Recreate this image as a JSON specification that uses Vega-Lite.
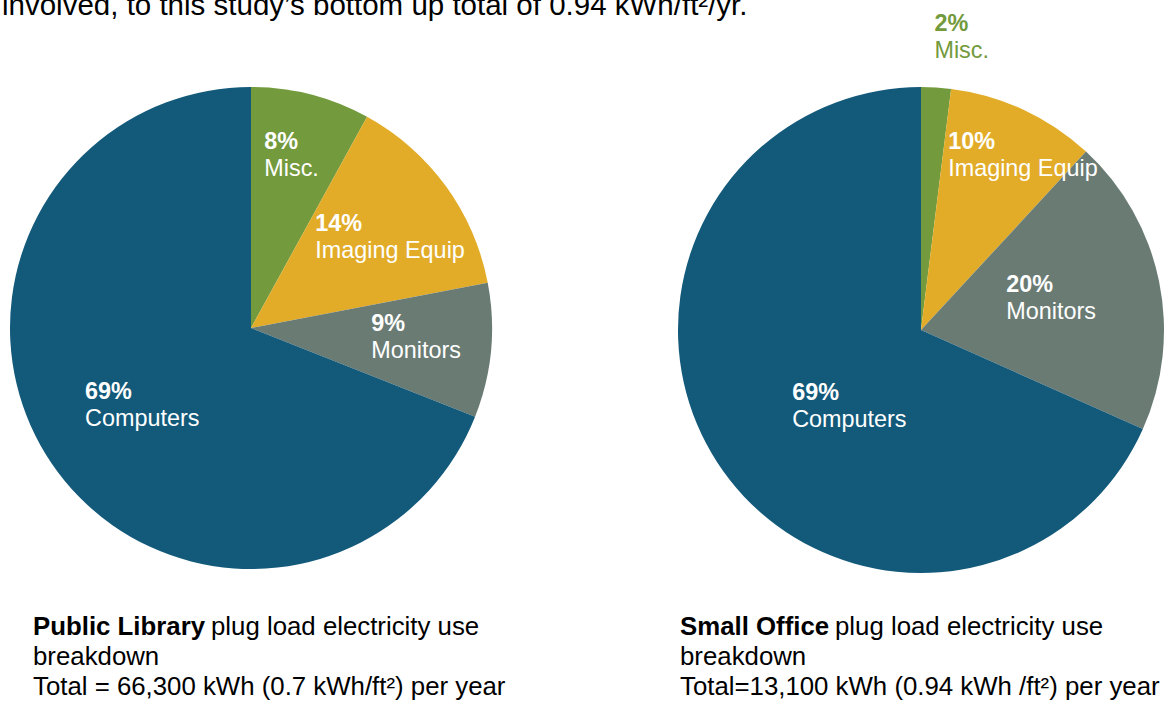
{
  "$schema": "https://vega.github.io/schema/vega-lite/v6.json",
  "background": "white",
  "padding": {"left": 2, "top": -9, "right": 0, "bottom": 0},
  "config": {"view": {"stroke": null}, "font": "Liberation Sans"},
  "datasets": {
    "library": [
      {"category": "Misc.", "value": 8, "pct": "8%", "order": 1},
      {"category": "Imaging Equip", "value": 14, "pct": "14%", "order": 2},
      {"category": "Monitors", "value": 9, "pct": "9%", "order": 3},
      {"category": "Computers", "value": 69, "pct": "69%", "order": 4}
    ],
    "office": [
      {"category": "Misc.", "value": 2, "pct": "2%", "order": 1},
      {"category": "Imaging Equip", "value": 10, "pct": "10%", "order": 2},
      {"category": "Monitors", "value": 20, "pct": "20%", "order": 3},
      {"category": "Computers", "value": 69, "pct": "69%", "order": 4}
    ]
  },
  "title": {
    "text": "involved, to this study’s bottom up total of 0.94 kWh/ft²/yr.",
    "orient": "top", "anchor": "start", "frame": "group",
    "offset": -10, "dx": -8,
    "font": "Liberation Sans", "fontSize": 29.5, "fontWeight": "normal", "color": "#000000"
  },
  "spacing": 161,
  "hconcat": [
    {
      "title": {
        "text": "plug load electricity use",
        "orient": "bottom", "anchor": "start", "frame": "group",
        "offset": -85, "dx": 201,
        "font": "Liberation Sans", "fontSize": 25.8, "fontWeight": "normal", "color": "#000000"
      },
      "vconcat": [
        {
          "width": 482, "height": 482,
          "data": {"name": "library"},
          "title": {
            "text": "Public Library",
            "subtitle": ["breakdown", "Total = 66,300 kWh (0.7 kWh/ft²) per year"],
            "orient": "bottom", "anchor": "start", "frame": "group",
            "offset": 46, "dx": 23,
            "font": "Liberation Sans", "fontSize": 25.8, "fontWeight": "bold", "color": "#000000",
            "subtitleFont": "Liberation Sans", "subtitleFontSize": 25.8, "subtitleColor": "#000000",
            "subtitleLineHeight": 30, "subtitlePadding": 4
          },
          "encoding": {
            "theta": {"field": "value", "type": "quantitative", "stack": true},
            "order": {"field": "order", "type": "quantitative"}
          },
          "layer": [
            {
              "mark": {"type": "arc", "stroke": null},
              "encoding": {
                "color": {
                  "field": "category", "type": "nominal", "legend": null,
                  "scale": {"domain": ["Misc.", "Imaging Equip", "Monitors", "Computers"], "range": ["#739A3C", "#E2AC28", "#6A7B74", "#12597A"]}
                }
              }
            },
            {"mark": {"type": "text", "radius": 178, "align": "left", "baseline": "middle", "dx": -31, "dy": -14, "fontSize": 23.4, "fontWeight": "bold", "color": "#ffffff"},
             "encoding": {"text": {"condition": {"test": "datum.category === 'Misc.'", "field": "pct"}, "value": ""}}},
            {"mark": {"type": "text", "radius": 178, "align": "left", "baseline": "middle", "dx": -31, "dy": 13, "fontSize": 23.4, "color": "#ffffff"},
             "encoding": {"text": {"condition": {"test": "datum.category === 'Misc.'", "field": "category"}, "value": ""}}},
            {"mark": {"type": "text", "radius": 166, "align": "left", "baseline": "middle", "dx": -70, "dy": -6, "fontSize": 23.4, "fontWeight": "bold", "color": "#ffffff"},
             "encoding": {"text": {"condition": {"test": "datum.category === 'Imaging Equip'", "field": "pct"}, "value": ""}}},
            {"mark": {"type": "text", "radius": 166, "align": "left", "baseline": "middle", "dx": -70, "dy": 21, "fontSize": 23.4, "color": "#ffffff"},
             "encoding": {"text": {"condition": {"test": "datum.category === 'Imaging Equip'", "field": "category"}, "value": ""}}},
            {"mark": {"type": "text", "radius": 166, "align": "left", "baseline": "middle", "dx": -45, "dy": -20, "fontSize": 23.4, "fontWeight": "bold", "color": "#ffffff"},
             "encoding": {"text": {"condition": {"test": "datum.category === 'Monitors'", "field": "pct"}, "value": ""}}},
            {"mark": {"type": "text", "radius": 166, "align": "left", "baseline": "middle", "dx": -45, "dy": 7, "fontSize": 23.4, "color": "#ffffff"},
             "encoding": {"text": {"condition": {"test": "datum.category === 'Monitors'", "field": "category"}, "value": ""}}},
            {"mark": {"type": "text", "radius": 133, "align": "left", "baseline": "middle", "dx": -56, "dy": -11, "fontSize": 23.4, "fontWeight": "bold", "color": "#ffffff"},
             "encoding": {"text": {"condition": {"test": "datum.category === 'Computers'", "field": "pct"}, "value": ""}}},
            {"mark": {"type": "text", "radius": 133, "align": "left", "baseline": "middle", "dx": -56, "dy": 16, "fontSize": 23.4, "color": "#ffffff"},
             "encoding": {"text": {"condition": {"test": "datum.category === 'Computers'", "field": "category"}, "value": ""}}}
          ]
        }
      ]
    },
    {
      "title": {
        "text": "plug load electricity use",
        "orient": "bottom", "anchor": "start", "frame": "group",
        "offset": -85, "dx": 157,
        "font": "Liberation Sans", "fontSize": 25.8, "fontWeight": "normal", "color": "#000000"
      },
      "vconcat": [
        {
          "width": 486, "height": 486,
          "data": {"name": "office"},
          "title": {
            "text": "Small Office",
            "subtitle": ["breakdown", "Total=13,100 kWh (0.94 kWh /ft²) per year"],
            "orient": "bottom", "anchor": "start", "frame": "group",
            "offset": 42, "dx": 2,
            "font": "Liberation Sans", "fontSize": 25.8, "fontWeight": "bold", "color": "#000000",
            "subtitleFont": "Liberation Sans", "subtitleFontSize": 25.8, "subtitleColor": "#000000",
            "subtitleLineHeight": 30, "subtitlePadding": 4
          },
          "encoding": {
            "theta": {"field": "value", "type": "quantitative", "stack": true},
            "order": {"field": "order", "type": "quantitative"}
          },
          "layer": [
            {
              "mark": {"type": "arc", "stroke": null},
              "encoding": {
                "color": {
                  "field": "category", "type": "nominal", "legend": null,
                  "scale": {"domain": ["Misc.", "Imaging Equip", "Monitors", "Computers"], "range": ["#739A3C", "#E2AC28", "#6A7B74", "#12597A"]}
                }
              }
            },
            {"mark": {"type": "text", "radius": 296, "align": "left", "baseline": "middle", "dx": -5, "dy": -11, "fontSize": 23.4, "fontWeight": "bold", "color": "#739A3C"},
             "encoding": {"text": {"condition": {"test": "datum.category === 'Misc.'", "field": "pct"}, "value": ""}}},
            {"mark": {"type": "text", "radius": 296, "align": "left", "baseline": "middle", "dx": -5, "dy": 16, "fontSize": 23.4, "color": "#739A3C"},
             "encoding": {"text": {"condition": {"test": "datum.category === 'Misc.'", "field": "category"}, "value": ""}}},
            {"mark": {"type": "text", "radius": 190, "align": "left", "baseline": "middle", "dx": -53, "dy": -15.5, "fontSize": 23.4, "fontWeight": "bold", "color": "#ffffff"},
             "encoding": {"text": {"condition": {"test": "datum.category === 'Imaging Equip'", "field": "pct"}, "value": ""}}},
            {"mark": {"type": "text", "radius": 190, "align": "left", "baseline": "middle", "dx": -53, "dy": 11.5, "fontSize": 23.4, "color": "#ffffff"},
             "encoding": {"text": {"condition": {"test": "datum.category === 'Imaging Equip'", "field": "category"}, "value": ""}}},
            {"mark": {"type": "text", "radius": 133, "align": "left", "baseline": "middle", "dx": -45, "dy": -18.5, "fontSize": 23.4, "fontWeight": "bold", "color": "#ffffff"},
             "encoding": {"text": {"condition": {"test": "datum.category === 'Monitors'", "field": "pct"}, "value": ""}}},
            {"mark": {"type": "text", "radius": 133, "align": "left", "baseline": "middle", "dx": -45, "dy": 8.5, "fontSize": 23.4, "color": "#ffffff"},
             "encoding": {"text": {"condition": {"test": "datum.category === 'Monitors'", "field": "category"}, "value": ""}}},
            {"mark": {"type": "text", "radius": 125, "align": "left", "baseline": "middle", "dx": -24, "dy": -5.5, "fontSize": 23.4, "fontWeight": "bold", "color": "#ffffff"},
             "encoding": {"text": {"condition": {"test": "datum.category === 'Computers'", "field": "pct"}, "value": ""}}},
            {"mark": {"type": "text", "radius": 125, "align": "left", "baseline": "middle", "dx": -24, "dy": 21.5, "fontSize": 23.4, "color": "#ffffff"},
             "encoding": {"text": {"condition": {"test": "datum.category === 'Computers'", "field": "category"}, "value": ""}}}
          ]
        }
      ]
    }
  ]
}
